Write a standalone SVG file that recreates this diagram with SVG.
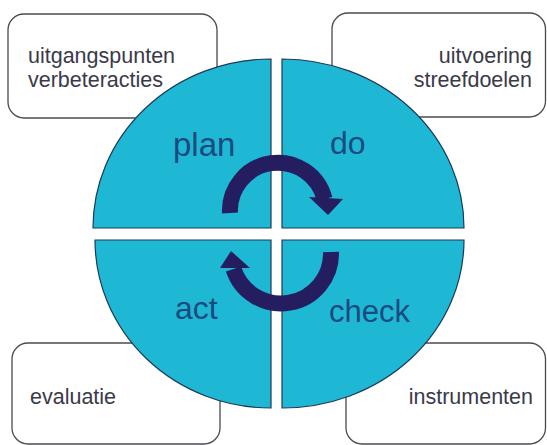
<svg xmlns="http://www.w3.org/2000/svg" width="547" height="445" viewBox="0 0 547 445">
  <style>
    .box { fill: #ffffff; stroke: #4a4a50; stroke-width: 1.3; }
    .boxtext { font-family: "Liberation Sans", Arial, sans-serif; font-size: 21.5px; fill: #3a3a48; }
    .quad { fill: #1fb8d4; stroke: #1d3a5c; stroke-width: 1.2; }
    .qlabel { font-family: "Liberation Sans", Arial, sans-serif; fill: #1a4a80; }
    .cycle { fill: none; stroke: #241e60; stroke-width: 16; stroke-linecap: butt; }
    .head { fill: #241e60; }
  </style>
  <rect width="547" height="445" fill="#ffffff"/>

  <!-- outer note boxes (drawn under the circle) -->
  <g id="note-plan">
    <rect class="box" x="8" y="14" width="209" height="104" rx="16"/>
    <text class="boxtext" x="28" y="63">uitgangspunten</text>
    <text class="boxtext" x="28" y="87">verbeteracties</text>
  </g>
  <g id="note-do">
    <rect class="box" x="332" y="13" width="213.5" height="104" rx="16"/>
    <text class="boxtext" x="532" y="63" text-anchor="end">uitvoering</text>
    <text class="boxtext" x="532" y="87" text-anchor="end">streefdoelen</text>
  </g>
  <g id="note-act">
    <rect class="box" x="12" y="343" width="208" height="101" rx="16"/>
    <text class="boxtext" x="30" y="404">evaluatie</text>
  </g>
  <g id="note-check">
    <rect class="box" x="346" y="343" width="199.5" height="101" rx="16"/>
    <text class="boxtext" x="533" y="404" text-anchor="end">instrumenten</text>
  </g>

  <!-- the four quadrants of the cycle -->
  <g id="plan">
    <path class="quad" d="M271,228 L271,59 A178,169 0 0 0 93,228 Z"/>
    <text class="qlabel" x="173" y="156" font-size="33">plan</text>
  </g>
  <g id="do">
    <path class="quad" d="M282,228 L282,59 A182,169 0 0 1 464,228 Z"/>
    <text class="qlabel" x="330" y="154" font-size="32">do</text>
  </g>
  <g id="act">
    <path class="quad" d="M271,240 L95,240 A176,168 0 0 0 271,408 Z"/>
    <text class="qlabel" x="175" y="319" font-size="32">act</text>
  </g>
  <g id="check">
    <path class="quad" d="M282,240 L464,240 A182,168 0 0 1 282,408 Z"/>
    <text class="qlabel" x="329" y="322" font-size="31">check</text>
  </g>

  <!-- circular arrows -->
  <g id="connectors">
    <path class="cycle" d="M230,213 A48,48 0 0 1 324.5,199"/>
    <polygon class="head" points="309,197 343,199 328,215"/>
    <path class="cycle" d="M331,252 A50,50 0 0 1 233.5,269"/>
    <polygon class="head" points="220,268 250,268 231,251"/>
  </g>
</svg>
